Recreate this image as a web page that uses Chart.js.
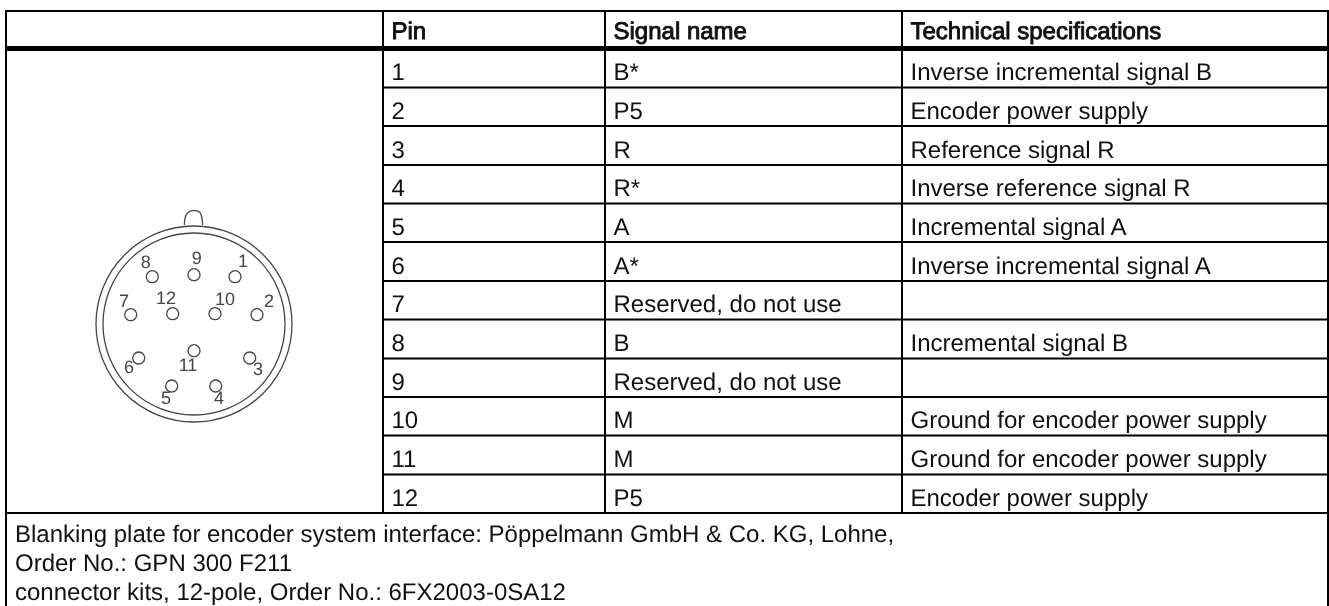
<!DOCTYPE html>
<html><head><meta charset="utf-8">
<style>html,body{margin:0;padding:0;background:#fff}canvas{display:block}</style>
<script src="https://cdn.jsdelivr.net/npm/chart.js@4/dist/chart.umd.min.js"></script>
</head><body><canvas id="c" width="1329" height="606"></canvas>
<script>
const headers = ["Pin", "Signal name", "Technical specifications"];
const pins = ["1","2","3","4","5","6","7","8","9","10","11","12"];
const signals = ["B*","P5","R","R*","A","A*","Reserved, do not use","B","Reserved, do not use","M","M","P5"];
const specs = ["Inverse incremental signal B","Encoder power supply","Reference signal R","Inverse reference signal R","Incremental signal A","Inverse incremental signal A","","Incremental signal B","","Ground for encoder power supply","Ground for encoder power supply","Encoder power supply"];
const footer = ["Blanking plate for encoder system interface: Pöppelmann GmbH & Co. KG, Lohne,","Order No.: GPN 300 F211","connector kits, 12-pole, Order No.: 6FX2003-0SA12"];
const colEdges = [6, 383, 605, 902, 1328];
const rowEdges = [48.5, 87.5, 126, 165, 203.5, 242, 281, 319.5, 358.5, 397, 435.5, 474.5, 513];
const tableTop = 11, tableBottom = 606;
const headerBaseline = 39;
const footerBaselines = [541.7, 570.5, 600];
const connectorCentre = [{x:194,y:324}];
const pinNames = ["1","2","3","4","5","6","7","8","9","10","11","12"];
const pinX = [235,257,249.7,215.7,171.7,138.7,130.7,152.3,194,215,194,172.7];
const pinY = [276.7,314.7,358,386,386,358,314.7,276.7,274.7,313.7,350.7,313.7];
const pinLabelX = [243,269,258,219,166,129,124,145.7,196.7,225,188,166];
const pinLabelY = [262,302,370,399,399,368,302,263,259,300,366,299];
const tabX = [184.3,185.3,188.5,194,199.5,201.7,202.7];
const tabY = [225,217,212,210.7,212,217,225];

const FONT = '"Liberation Sans", Arial, sans-serif';
const thin = [], thick = [];
const gap = {x:0,y:null};
thin.push({x:colEdges[0],y:tableTop},{x:colEdges[4],y:tableTop},gap);
thin.push({x:colEdges[0],y:tableTop},{x:colEdges[0],y:tableBottom},gap);
thin.push({x:colEdges[4],y:tableTop},{x:colEdges[4],y:tableBottom},gap);
[1,2,3].forEach(i=>thin.push({x:colEdges[i],y:tableTop},{x:colEdges[i],y:rowEdges[12]},gap));
rowEdges.slice(1,12).forEach(y=>thin.push({x:colEdges[1],y},{x:colEdges[4],y},gap));
thin.push({x:colEdges[0],y:rowEdges[12]},{x:colEdges[4],y:rowEdges[12]});
thick.push({x:colEdges[0],y:rowEdges[0]},{x:colEdges[4],y:rowEdges[0]});
const pinPts = pinX.map((x,i)=>({x,y:pinY[i]}));
const tabPts = tabX.map((x,i)=>({x,y:tabY[i]}));
const GREY = '#454545';

const textPlugin = {id:'tableText', afterDatasetsDraw(ch){
  const c = ch.ctx, X = ch.scales.x, Y = ch.scales.y;
  c.save();
  c.textRendering='geometricPrecision';
  c.textBaseline='alphabetic'; c.textAlign='left'; c.fillStyle='#111';
  const px = v=>X.getPixelForValue(v), py = v=>Y.getPixelForValue(v);
  c.font = '24px '+FONT;
  c.strokeStyle='#111'; c.lineWidth=0.9;
  headers.forEach((t,i)=>{ const x=px(colEdges[i+1])+8.5, y=py(headerBaseline); c.fillText(t,x,y); c.strokeText(t,x,y); });
  pins.forEach((t,i)=>{
    const y = py(rowEdges[i+1])-7.5;
    c.fillText(t,px(colEdges[1])+8.5,y);
    c.fillText(signals[i],px(colEdges[2])+8.5,y);
    if(specs[i]) c.fillText(specs[i],px(colEdges[3])+8.5,y);
  });
  footer.forEach((t,i)=>c.fillText(t,px(colEdges[0])+9,py(footerBaselines[i])));
  c.textBaseline='middle'; c.textAlign='center'; c.fillStyle=GREY; c.font='18px '+FONT;
  pinNames.forEach((t,i)=>c.fillText(t,px(pinLabelX[i]),py(pinLabelY[i])));
  c.restore();
}};

new Chart(document.getElementById('c'),{
  type:'scatter',
  data:{datasets:[
    {label:'rules',data:thin,showLine:true,spanGaps:false,borderColor:'#000',borderWidth:2,pointRadius:0,borderCapStyle:'square'},
    {label:'header rule',data:thick,showLine:true,borderColor:'#000',borderWidth:5,pointRadius:0},
    {label:'shell outer',data:connectorCentre,pointRadius:98,pointBorderWidth:1.3,pointBorderColor:GREY,pointBackgroundColor:'transparent'},
    {label:'shell inner',data:connectorCentre,pointRadius:91,pointBorderWidth:1.3,pointBorderColor:GREY,pointBackgroundColor:'transparent'},
    {label:'key',data:tabPts,showLine:true,tension:0.4,borderColor:GREY,borderWidth:1.3,pointRadius:0},
    {label:'pins',data:pinPts,pointRadius:6,pointBorderWidth:1.3,pointBorderColor:GREY,pointBackgroundColor:'transparent'}
  ]},
  options:{
    responsive:false,animation:false,
    layout:{padding:0,autoPadding:false},
    events:[],
    plugins:{legend:{display:false},title:{display:false},tooltip:{enabled:false}},
    scales:{
      x:{type:'linear',min:0,max:1329,display:false},
      y:{type:'linear',min:0,max:606,reverse:true,display:false}
    }
  },
  plugins:[textPlugin]
});
</script></body></html>
